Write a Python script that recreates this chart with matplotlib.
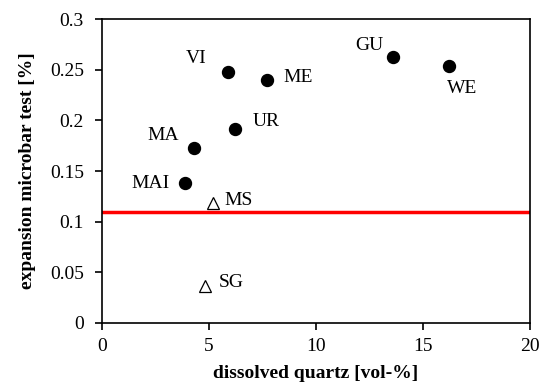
import matplotlib
matplotlib.use('Agg')
import matplotlib.pyplot as plt

# reactive aggregates (filled circles)
names = ["VI", "ME", "UR", "MA", "MAI", "GU", "WE"]
quartz = [5.9, 7.7, 6.2, 4.3, 3.9, 13.6, 16.2]
expansion = [0.248, 0.240, 0.192, 0.173, 0.138, 0.263, 0.254]
offsets = [(-32, 13), (31, 2), (31, 7), (-31, 12), (-35, 0), (-24, 11), (13, -23)]

# non-reactive (open triangles)
names2 = ["MS", "SG"]
quartz2 = [5.2, 4.8]
expansion2 = [0.118, 0.037]
offsets2 = [(25, 3), (27, 3)]

limit = 0.11

plt.rcParams['font.family'] = ['Liberation Serif', 'DejaVu Serif']
plt.rcParams['font.size'] = 14

fig = plt.figure(figsize=(5.41, 3.9), dpi=100)
ax = fig.add_axes([0.1885, 0.1718, 0.7915, 0.7792])

ax.axhline(limit, color='#ff0000', lw=2.5, zorder=1)
ax.plot(quartz, expansion, 'o', color='black', markersize=8.6, zorder=3)
ax.plot(quartz2, expansion2, '^', mfc='white', mec='black', mew=0.9,
        markersize=8, zorder=3)

for n, x, y, off in zip(names, quartz, expansion, offsets):
    ax.annotate(n, (x, y), xytext=off, textcoords='offset pixels',
                ha='center', va='center', fontsize=14)
for n, x, y, off in zip(names2, quartz2, expansion2, offsets2):
    ax.annotate(n, (x, y), xytext=off, textcoords='offset pixels',
                ha='center', va='center', fontsize=14)

ax.set_xlim(0, 20)
ax.set_ylim(0, 0.3)
ax.set_xticks([0, 5, 10, 15, 20])
ax.set_yticks([0, 0.05, 0.1, 0.15, 0.2, 0.25, 0.3])
ax.set_yticklabels(["0", "0.05", "0.1", "0.15", "0.2", "0.25", "0.3"])
ax.tick_params(direction='out', length=5, width=1.2, labelsize=14)
ax.tick_params(axis='x', pad=6)
ax.tick_params(axis='y', pad=8)
for s in ax.spines.values():
    s.set_linewidth(1.2)

ax.set_xlabel("dissolved quartz [vol-%]", fontweight='bold', fontsize=14, labelpad=7)
ax.set_ylabel("expansion microbar test [%]", fontweight='bold', fontsize=14, labelpad=10)

plt.savefig("out.png", dpi=100)
plt.close()
